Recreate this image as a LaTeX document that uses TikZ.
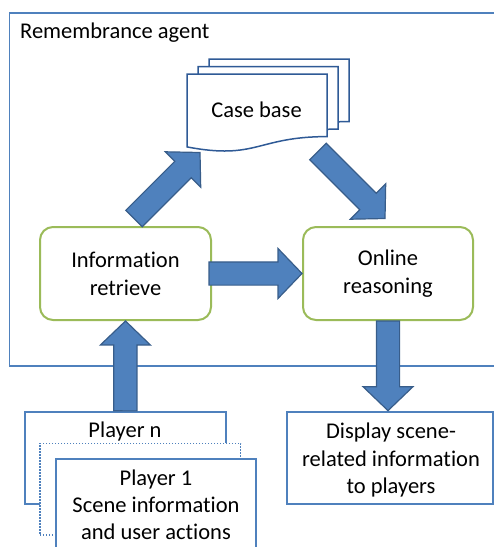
\documentclass[tikz,border=0pt]{standalone}
\usepackage{fontspec}
\setmainfont{Carlito}[Ligatures={NoCommon,NoContextual}, RawFeature={-liga;-dlig;-clig}]
\usetikzlibrary{calc}

\definecolor{arrowfill}{HTML}{4F81BD}
\definecolor{arrowline}{HTML}{385D8A}
\definecolor{frameblue}{HTML}{4F81BD}
\definecolor{boxgreen}{HTML}{9BBB59}
\definecolor{docline}{HTML}{2F5A96}

% block arrow from tail #1 to tip #2
\newcommand{\blockarrow}[2]{%
  \coordinate (ba-c) at ($(#2)!24pt!(#1)$);
  \filldraw[blockarrow]
    ($(#1)!11.6pt!90:(#2)$) -- ($(ba-c)!11.6pt!90:(#2)$) -- ($(ba-c)!25pt!90:(#2)$)
    -- (#2)
    -- ($(ba-c)!25pt!-90:(#2)$) -- ($(ba-c)!11.6pt!-90:(#2)$) -- ($(#1)!11.6pt!-90:(#2)$)
    -- cycle;}

\tikzset{
  txt/.style={font=\fontsize{22.5}{28}\selectfont, align=center, text=black, inner sep=0pt},
  frame/.style={draw=frameblue, line width=1.6pt},
  procbox/.style={draw=boxgreen, line width=2pt, rounded corners=13pt, fill=white},
  iobox/.style={draw=frameblue, line width=2pt, fill=white},
  blockarrow/.style={fill=arrowfill, draw=arrowline, line width=1.2pt, line join=miter},
  docstyle/.style={draw=docline, line width=1.5pt, fill=white, line join=miter},
  pics/casedoc/.style={code={
    \draw[docstyle] (0,0) -- (140,0) -- (140,62.6)
      .. controls (70,62.6) and (70,86.3) .. (0,72.9) -- cycle;}}
}

\begin{document}
\begin{tikzpicture}[x=1pt, y=-1pt]
\useasboundingbox (0,0) rectangle (494,547);

% agent frame (runs off the right edge)
\draw[frame] (495,13) -| (9.5,366) -- (495,366);
\node[txt, anchor=west] (agenttitle) at (20,33) {Remembrance agent};

% case base: stacked documents
\pic at (209,59) {casedoc};
\pic at (198,66.5) {casedoc};
\pic at (187,74) {casedoc};
\node[txt] (casebase) at (256.5,110) {Case base};

% processing boxes
\node[procbox, minimum width=171pt, minimum height=93pt] (info) at (125.5,273.5) {};
\node[txt] (infotext) at (info) {Information\\retrieve};
\node[procbox, minimum width=170pt, minimum height=93pt] (online) at (388,273.5) {};
\node[txt] (onlinetext) at (online) {Online\\reasoning};

% output box
\node[iobox, minimum width=206.6pt, minimum height=92.3pt] (display) at (390,457.8) {};
\node[txt, font=\fontsize{22.5}{27.3}\selectfont] (displaytext) at (391,460) {Display scene-\\related information\\to players};

% player stack
\node[iobox, minimum width=200.7pt, minimum height=91.7pt] (playern) at (125.3,458.2) {};
\node[txt] (playerntext) at (125,431.7) {Player n};
\node[draw=frameblue, line width=1.5pt, dash pattern=on 1.5pt off 1.5pt, fill=white,
      minimum width=200.7pt, minimum height=91.7pt] (playerdots) at (140.3,489.2) {};
\fill[white] (55.7,459) rectangle (256,548);
\draw[frameblue, line width=2pt] (55.7,549) |- (256,459) -- (256,549);
\node[txt, font=\fontsize{22.5}{26.8}\selectfont] (player1text) at (156,505) {Player 1\\Scene information\\and user actions};

% arrow end points
\coordinate (a1tail) at (134,218.5);
\coordinate (a1tip)  at (200,152.5);
\coordinate (a2tail) at (318,151.5);
\coordinate (a2tip)  at (385,218.5);
\coordinate (a3tail) at ($(info.east)+(-3,0)$);
\coordinate (a4tail) at ($(playern.north)+(0,-0.5)$);
\coordinate (a5tip)  at (online.south |- display.north);

% flow arrows
\blockarrow{a1tail}{a1tip}
\blockarrow{a2tail}{a2tip}
\blockarrow{a3tail}{online.west}
\blockarrow{a4tail}{info.south}
\blockarrow{online.south}{a5tip}
\end{tikzpicture}
\end{document}
